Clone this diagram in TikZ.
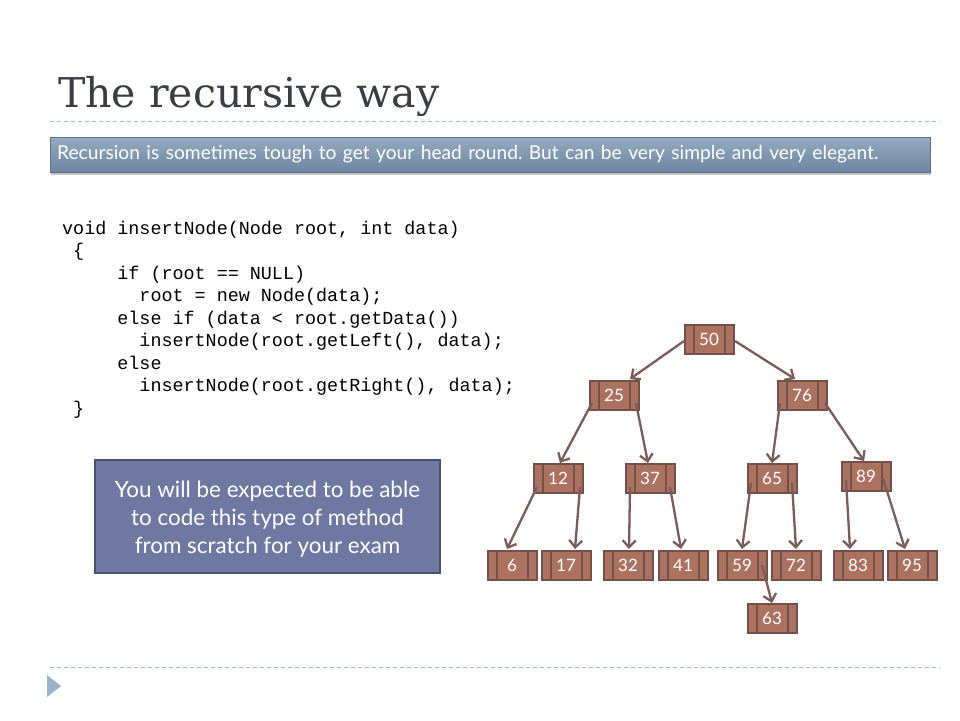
\documentclass[tikz,border=0pt]{standalone}
\usepackage{fontspec}
\setmainfont{DejaVu Serif}
\newfontfamily\gill{Lato}
\newfontfamily\cour{Liberation Mono}
\usetikzlibrary{arrows.meta,shadows,calc}
\frenchspacing
\definecolor{titlec}{HTML}{3C3C46}
\definecolor{dashc}{HTML}{A9BCCB}
\definecolor{bantop}{HTML}{94AAC0}
\definecolor{banbot}{HTML}{6E86A0}
\definecolor{boxfill}{HTML}{6E78A0}
\definecolor{boxdraw}{HTML}{4A5270}
\definecolor{nodefill}{HTML}{AA725F}
\definecolor{nodedraw}{HTML}{74504A}
\definecolor{arrc}{HTML}{7A5C58}
\definecolor{tric}{HTML}{9BB3CC}
\tikzset{
  dashline/.style={draw=dashc, line width=0.8pt, dash pattern=on 4pt off 3pt},
  treenode/.style={draw=nodedraw, fill=nodefill, line width=2pt,
    minimum width=49pt, minimum height=29pt, inner sep=0pt, text=white,
    font=\gill\fontsize{17}{17}\selectfont,
    path picture={
      \draw[nodedraw, line width=2pt]
        ([xshift=9pt]path picture bounding box.north west) -- ([xshift=9pt]path picture bounding box.south west)
        ([xshift=-9pt]path picture bounding box.north east) -- ([xshift=-9pt]path picture bounding box.south east);
    }},
  arr/.style={draw=arrc, line width=2.3pt, -{Straight Barb[length=7pt,width=13pt,line width=2.3pt]}},
  codeline/.style={anchor=base west, inner sep=0pt, font=\cour\fontsize{18.4}{20}\selectfont, text=black}
}
\begin{document}
\begin{tikzpicture}[x=1pt,y=-1pt]
\useasboundingbox[fill=white] (0,0) rectangle (960,720);
% title
\node[anchor=base west, inner sep=0pt, text=titlec, font=\fontsize{41}{46}\selectfont] (title) at (58,107) {The recursive way};
\coordinate (d1a) at (50,121); \coordinate (d1b) at (940,121);
\draw[dashline] (d1a) -- (d1b);
\coordinate (d2a) at (50,667); \coordinate (d2b) at (940,667);
\draw[dashline] (d2a) -- (d2b);
\fill[tric] (47,675) -- (61,686) -- (47,697) -- cycle;
% banner
\node[anchor=west, minimum width=880pt, minimum height=35pt, text width=866pt, inner xsep=7pt, align=left,
  top color=bantop, bottom color=banbot, draw=banbot!85!black, line width=0.3pt,
  drop shadow={opacity=0.45, shadow xshift=1pt, shadow yshift=-2.5pt},
  text=white, font=\gill\fontsize{19.2}{22}\selectfont] (banner) at (50,154.5)
  {Recursion is sometimes tough to get your head round. But can be very simple and very elegant.};
% code
\node[codeline] (c1) at (62,234) {void insertNode(Node root, int data)};
\node[codeline] (c2) at (62,256.5) {\ \{};
\node[codeline] (c3) at (62,279) {\ \ \ \ \ if (root == NULL)};
\node[codeline] (c4) at (62,301.5) {\ \ \ \ \ \ \ root = new Node(data);};
\node[codeline] (c5) at (62,324) {\ \ \ \ \ else if (data < root.getData())};
\node[codeline] (c6) at (62,346.5) {\ \ \ \ \ \ \ insertNode(root.getLeft(), data);};
\node[codeline] (c7) at (62,369) {\ \ \ \ \ else};
\node[codeline] (c8) at (62,391.5) {\ \ \ \ \ \ \ insertNode(root.getRight(), data);};
\node[codeline] (c9) at (62,414) {\ \}};
% blue box
\node[draw=boxdraw, fill=boxfill, line width=1.5pt, minimum width=345pt, minimum height=113pt,
  text=white, align=center, font=\gill\fontsize{22.4}{28}\selectfont] (exam) at (267.5,516.5) {};
\node[text=white, align=center, font=\gill\fontsize{22.4}{28}\selectfont, inner sep=0pt] (examtext) at ($(exam.center)+(0,3)$)
  {You will be expected to be able\\to code this type of method\\from scratch for your exam};
% tree
\node[treenode] (n50) at (709,339) {50};
\node[treenode] (n25) at (614,395) {25};
\node[treenode] (n76) at (802,395) {76};
\node[treenode] (n12) at (558,478) {12};
\node[treenode] (n37) at (650,478) {37};
\node[treenode] (n65) at (772,478) {65};
\node[treenode] (n89) at (866,476) {89};
\node[treenode] (n6) at (512,565) {6};
\node[treenode] (n17) at (566,565) {17};
\node[treenode] (n32) at (628,565) {32};
\node[treenode] (n41) at (683,565) {41};
\node[treenode] (n59) at (742,565) {59};
\node[treenode] (n72) at (796,565) {72};
\node[treenode] (n83) at (858,565) {83};
\node[treenode] (n95) at (912,565) {95};
\node[treenode] (n63) at (772,618) {63};
\draw[arr] ($(n50.center)+(-25,2)$) -- ($(n25.center)+(16,-16)$);
\draw[arr] ($(n50.center)+(26,2)$) -- ($(n76.center)+(-7,-16)$);
\draw[arr] ($(n25.center)+(-22,8)$) -- ($(n12.center)+(2,-15)$);
\draw[arr] ($(n25.center)+(22,8)$) -- ($(n37.center)+(-2,-15)$);
\draw[arr] ($(n76.center)+(-22,8)$) -- ($(n65.center)+(0,-15)$);
\draw[arr] ($(n76.center)+(23,8)$) -- ($(n89.center)+(-2,-15)$);
\draw[arr] ($(n12.center)+(-21,9)$) -- ($(n6.center)+(-5,-16)$);
\draw[arr] ($(n12.center)+(22,9)$) -- ($(n17.center)+(9,-16)$);
\draw[arr] ($(n37.center)+(-20,9)$) -- ($(n32.center)+(1,-16)$);
\draw[arr] ($(n37.center)+(20,9)$) -- ($(n41.center)+(-2,-16)$);
\draw[arr] ($(n65.center)+(-21,5)$) -- ($(n59.center)+(0,-16)$);
\draw[arr] ($(n65.center)+(20,5)$) -- ($(n72.center)+(0,-16)$);
\draw[arr] ($(n89.center)+(-20,4)$) -- ($(n83.center)+(-8,-16)$);
\draw[arr] ($(n89.center)+(17,2)$) -- ($(n95.center)+(-7,-16)$);
\draw[arr] ($(n59.center)+(20,0)$) -- ($(n63.center)+(0,-15)$);
\end{tikzpicture}
\end{document}
